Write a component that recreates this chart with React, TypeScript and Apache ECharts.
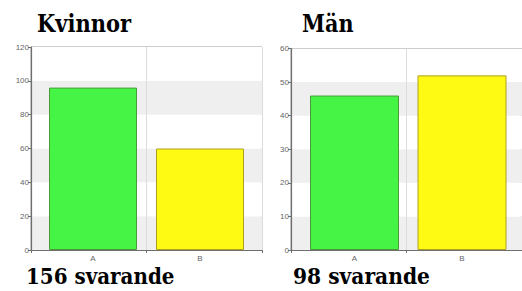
import React, { useEffect, useRef } from "react";
import * as echarts from "echarts";

const categories = ["A", "B"];
const womenValues = [96, 60];
const menValues = [46, 52];
const womenTitle = "Kvinnor";
const menTitle = "Män";
const womenFooter = "156 svarande";
const menFooter = "98 svarande";
const womenAxis = { max: 120, interval: 20 };
const menAxis = { max: 60, interval: 10 };

const barColors = ["#46f446", "#fffa14"];
const barBorders = ["#4a9a3a", "#b0a020"];

const labelFont = { color: "#666", fontSize: 8, fontFamily: "Liberation Sans" };

export default function App() {
  const ref = useRef<HTMLDivElement>(null);
  useEffect(() => {
    document.body.style.margin = "0";
    const chart = echarts.init(ref.current!, undefined, { renderer: "svg" });

    const grids = [
      { left: 31, top: 47, width: 231, height: 203 },
      { left: 39.5, top: 47, width: 214, height: 203 },
      { left: 291, top: 48.5, width: 233, height: 201.5 },
      { left: 300.75, top: 48.5, width: 215, height: 201.5 },
    ].map((g, i) => ({
      ...g,
      containLabel: false,
      show: i % 2 === 0,
      borderColor: "#9a9a9a",
      borderWidth: 1,
      backgroundColor: "#fff",
    }));

    const bgX = (gi: number) => ({
      type: "category",
      gridIndex: gi,
      data: categories,
      axisLine: { show: true, lineStyle: { color: "#6f6f6f", width: 1.2 } },
      axisTick: { show: true, length: 3, lineStyle: { color: "#6f6f6f" } },
      axisLabel: { show: false },
      splitLine: { show: true, lineStyle: { color: "#dcdcdc", width: 1 } },
    });
    const fgX = (gi: number) => ({
      type: "category",
      gridIndex: gi,
      data: categories,
      axisLine: { show: false },
      axisTick: { show: false },
      axisLabel: { show: true, margin: 4, ...labelFont },
      splitLine: { show: false },
    });
    const bgY = (gi: number, a: { max: number; interval: number }) => ({
      type: "value",
      gridIndex: gi,
      min: 0,
      max: a.max,
      interval: a.interval,
      axisLine: { show: true, lineStyle: { color: "#6f6f6f", width: 1.2 } },
      axisTick: { show: true, length: 3, lineStyle: { color: "#6f6f6f" } },
      axisLabel: { show: true, margin: 2, ...labelFont },
      splitLine: { show: false },
      splitArea: { show: true, areaStyle: { color: ["#efefef", "#ffffff"] } },
    });
    const fgY = (gi: number, a: { max: number; interval: number }) => ({
      type: "value",
      gridIndex: gi,
      min: 0,
      max: a.max,
      interval: a.interval,
      show: false,
      splitLine: { show: false },
    });

    const barSeries = (axisIdx: number, values: number[], width: number) => ({
      type: "bar",
      xAxisIndex: axisIdx,
      yAxisIndex: axisIdx,
      barWidth: width,
      data: values.map((v, i) => ({
        value: v,
        itemStyle: { color: barColors[i], borderColor: barBorders[i], borderWidth: 1 },
      })),
    });

    const textEl = (t: string, x: number, y: number, size: number, sx: number) => ({
      type: "text",
      x,
      y,
      scaleX: sx,
      scaleY: 1,
      style: {
        text: t,
        fill: "#000",
        fontFamily: "DejaVu Serif",
        fontWeight: "bold",
        fontSize: size,
        verticalAlign: "middle",
        align: "left",
      },
    });

    chart.setOption({
      animation: false,
      grid: grids,
      xAxis: [bgX(0), fgX(1), bgX(2), fgX(3)],
      yAxis: [bgY(0, womenAxis), fgY(1, womenAxis), bgY(2, menAxis), fgY(3, menAxis)],
      series: [barSeries(1, womenValues, 88), barSeries(3, menValues, 89)],
      graphic: [
        textEl(womenTitle, 37, 23.4, 24, 0.875),
        textEl(menTitle, 302, 23.4, 24, 0.865),
        textEl(womenFooter, 26, 276, 23, 0.865),
        textEl(menFooter, 293, 276, 23, 0.88),
      ],
    });
    return () => chart.dispose();
  }, []);
  return <div ref={ref} style={{ width: 522, height: 291 }} />;
}
